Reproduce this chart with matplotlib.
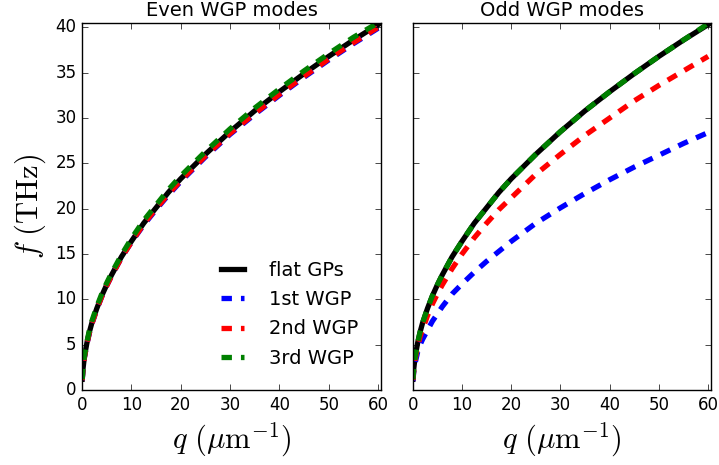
import numpy as np
import matplotlib
matplotlib.use("Agg")
import matplotlib.pyplot as plt

plt.style.use('classic')
plt.rcParams['mathtext.fontset'] = 'cm'

# wavevector q (um^-1)
q = [0.05, 0.2, 0.5, 1, 1.5, 2, 3, 4, 5, 6, 8, 10, 12.5, 15, 17.5, 20, 25, 30, 35, 40, 45, 50, 55, 60]

# flat graphene plasmons
f_flat = [1.2, 2.3, 3.7, 5.2, 6.4, 7.4, 9.0, 10.4, 11.6, 12.7, 14.7, 16.4, 18.4, 20.1, 21.8, 23.3,
          26.0, 28.5, 30.8, 32.9, 34.9, 36.8, 38.6, 40.3]

# even WGP modes
even_1 = [1.1, 2.2, 3.6, 5.1, 6.3, 7.3, 8.9, 10.3, 11.5, 12.6, 14.6, 16.3, 18.2, 19.9, 21.5, 23.0,
          25.7, 28.2, 30.4, 32.5, 34.5, 36.4, 38.2, 39.9]
even_2 = [1.1, 2.2, 3.6, 5.1, 6.3, 7.3, 8.9, 10.3, 11.5, 12.6, 14.6, 16.3, 18.3, 20.0, 21.6, 23.1,
          25.8, 28.3, 30.5, 32.6, 34.6, 36.5, 38.3, 40.0]
even_3 = [1.2, 2.4, 3.8, 5.3, 6.6, 7.6, 9.2, 10.6, 11.8, 12.9, 14.9, 16.7, 18.7, 20.4, 22.1, 23.6,
          26.3, 28.8, 31.1, 33.2, 35.2, 37.1, 38.9, 40.5]

# odd WGP modes
odd_1 = [1.0, 2.0, 3.0, 4.2, 5.0, 5.6, 6.6, 7.6, 8.4, 9.2, 10.6, 11.7, 13.0, 14.2, 15.3, 16.4,
         18.4, 20.1, 21.7, 23.2, 24.6, 25.9, 27.2, 28.4]
odd_2 = [1.1, 2.1, 3.4, 4.8, 5.9, 6.7, 8.2, 9.5, 10.6, 11.6, 13.4, 15.0, 16.8, 18.4, 19.9, 21.2,
         23.8, 26.0, 28.1, 30.0, 31.9, 33.6, 35.2, 36.8]
odd_3 = [1.2, 2.3, 3.7, 5.2, 6.4, 7.4, 9.0, 10.4, 11.6, 12.7, 14.7, 16.4, 18.4, 20.1, 21.8, 23.3,
         26.0, 28.5, 30.8, 32.9, 34.9, 36.8, 38.6, 40.4]

labels = ['flat GPs', '1st WGP', '2nd WGP', '3rd WGP']

fig = plt.figure(figsize=(7.19, 4.65), dpi=100, facecolor='white')
ax1 = fig.add_axes([0.114, 0.161, 0.416, 0.789])
ax2 = fig.add_axes([0.574, 0.161, 0.415, 0.789], sharey=ax1)

dash = (7.5, 6.5)
for ax, modes, title in [(ax1, (even_1, even_2, even_3), 'Even WGP modes'),
                         (ax2, (odd_1, odd_2, odd_3), 'Odd WGP modes')]:
    ax.plot(q, f_flat, 'k-', lw=3.8, label=labels[0])
    ax.plot(q, modes[0], 'b--', lw=3.8, dashes=dash, label=labels[1])
    ax.plot(q, modes[1], 'r--', lw=3.8, dashes=dash, label=labels[2])
    ax.plot(q, modes[2], 'g--', lw=3.8, dashes=dash, label=labels[3])
    ax.set_xlim(0, 60.6)
    ax.set_ylim(0, 40.45)
    ax.set_xticks(np.arange(0, 61, 10))
    ax.set_title(title, fontsize=14)
    ax.set_xlabel(r'$q\ (\mu\mathrm{m}^{-1})$', fontsize=22)
    ax.tick_params(labelsize=12)

ax1.set_yticks(np.arange(0, 41, 5))
ax1.set_ylabel(r'$f\ (\mathrm{THz})$', fontsize=22)
plt.setp(ax2.get_yticklabels(), visible=False)

ax1.legend(loc='lower right', frameon=False, fontsize=14, handlelength=1.75,
           handletextpad=1.03, borderaxespad=0.75, labelspacing=0.53)

fig.savefig('out.png', dpi=100, facecolor='white')
